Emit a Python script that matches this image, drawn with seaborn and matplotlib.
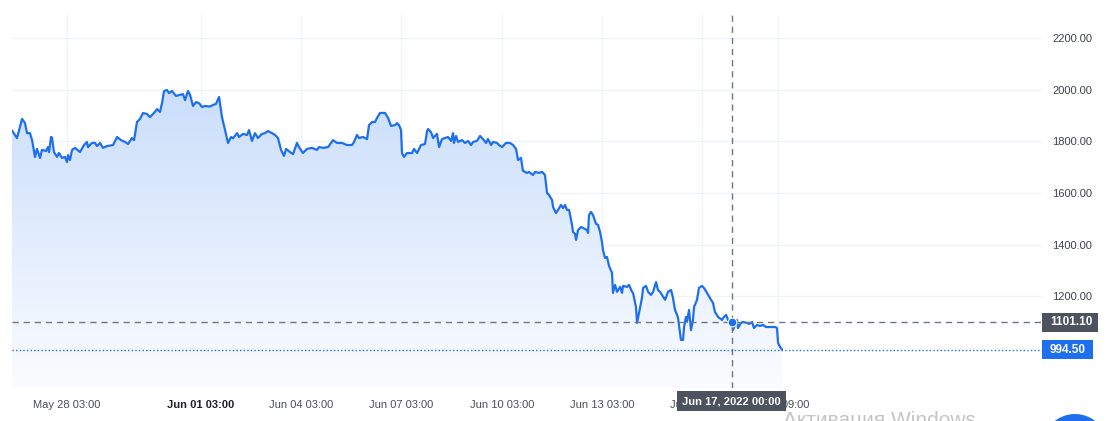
import matplotlib.pyplot as plt
import numpy as np
import pandas
import seaborn as sns
from matplotlib.colors import LinearSegmentedColormap
from matplotlib.patches import Circle, Rectangle
from matplotlib.transforms import blended_transform_factory

# Series start; all sample times are hours after this moment
START: pandas.Timestamp = pandas.Timestamp("2022-05-26 11:30")

hours: list[float] = [
    0.0, 3.6, 5.7, 7.2, 9.3, 10.8, 12.9, 14.4, 16.5, 17.9, 20.1, 21.5, 24.4,
    25.8, 26.6, 28.0, 28.7, 30.1, 32.3, 33.7, 35.9, 38.0, 39.5, 40.2, 41.6,
    43.1, 45.2, 48.8, 51.7, 53.8, 54.5, 57.4, 59.6, 61.0, 63.2, 65.3, 68.2,
    72.5, 75.4, 78.2, 81.1, 83.3, 86.1, 87.6, 89.7, 91.9, 94.0, 96.9, 99.0,
    101.9, 104.1, 106.2, 107.7, 109.1, 111.2, 112.7, 114.8, 117.7, 120.6,
    122.7, 124.2, 126.3, 127.8, 129.9, 132.1, 134.2, 136.4, 138.5, 142.1,
    144.3, 146.4, 148.6, 150.7, 152.9, 155.0, 157.2, 158.6, 161.5, 162.9,
    165.8, 168.7, 170.1, 172.2, 174.4, 176.5, 179.4, 181.6, 183.7, 186.6,
    188.8, 190.9, 193.1, 195.2, 196.7, 199.5, 201.7, 204.5, 206.0, 208.8,
    211.7, 215.3, 218.9, 220.3, 223.2, 226.8, 230.4, 233.3, 236.8, 240.4,
    244.0, 245.5, 247.6, 249.0, 251.9, 254.8, 256.2, 258.4, 260.5, 262.0,
    264.1, 267.7, 269.9, 272.0, 274.9, 276.3, 277.7, 279.2, 279.9, 281.3,
    283.5, 287.1, 288.5, 290.7, 293.5, 296.4, 297.9, 298.6, 300.7, 302.2,
    303.6, 305.0, 306.5, 308.6, 310.8, 312.9, 315.1, 316.5, 317.2, 318.7,
    320.1, 323.0, 325.1, 327.3, 329.4, 330.9, 333.7, 335.9, 338.0, 340.2,
    341.6, 343.8, 345.2, 348.1, 349.5, 351.7, 354.5, 357.4, 359.6, 361.7,
    363.2, 365.3, 366.7, 369.6, 371.0, 373.9, 375.4, 378.2, 380.4, 382.5,
    384.0, 385.4, 387.6, 388.3, 390.4, 391.9, 394.0, 395.5, 396.9, 398.3,
    399.8, 401.9, 402.6, 404.1, 404.8, 406.2, 408.4, 409.8, 412.7, 413.4,
    414.1, 415.5, 417.0, 419.1, 420.6, 422.0, 423.4, 424.1, 425.6, 427.0,
    428.5, 430.6, 431.3, 432.8, 434.2, 436.4, 437.8, 438.5, 441.4, 442.8,
    445.0, 445.7, 447.8, 448.6, 450.0, 452.2, 452.9, 455.0, 456.5, 458.6,
    460.1, 462.2, 463.6, 465.1, 468.7, 470.8, 473.0, 474.4, 475.8, 477.3,
    478.0, 480.1, 481.6, 482.3, 483.7, 484.4, 485.9, 487.3, 488.7, 489.5,
    491.6, 493.0, 495.2, 496.6, 498.8, 500.9, 503.1, 504.5, 506.7, 509.6,
    510.3, 512.5, 513.9, 516.5, 517.4, 520.3, 521.0, 523.2, 524.6, 527.5,
    529.0, 531.1, 532.5, 534.7, 536.8, 539.0, 541.1, 544.0, 547.6, 549.0,
    549.8, 551.2, 552.6,
]

prices: list[float] = [
    1842, 1813, 1857, 1887, 1871, 1832, 1832, 1805, 1740, 1771, 1736, 1767, 1763,
    1778, 1759, 1817, 1815, 1759, 1740, 1755, 1736, 1740, 1720, 1747, 1728,
    1767, 1775, 1759, 1786, 1798, 1778, 1794, 1794, 1782, 1794, 1775, 1782,
    1786, 1817, 1805, 1798, 1790, 1813, 1805, 1875, 1887, 1910, 1906, 1894,
    1910, 1925, 1914, 1949, 1995, 1999, 1987, 1995, 1976, 1980,
    1983, 1960, 1995, 1980, 1937, 1952, 1948, 1933, 1937, 1935,
    1941, 1945, 1972, 1894, 1844, 1794, 1817, 1812, 1832, 1817,
    1829, 1825, 1844, 1802, 1832, 1813, 1829, 1832, 1840, 1832,
    1825, 1813, 1767, 1744, 1771, 1759, 1751, 1794, 1778, 1755,
    1771, 1775, 1767, 1778, 1775, 1778, 1805, 1794, 1794, 1786,
    1786, 1798, 1825, 1813, 1817, 1809, 1863, 1875, 1875, 1891,
    1910, 1910, 1891, 1860, 1863, 1871, 1863, 1844, 1755, 1740,
    1755, 1755, 1771, 1755, 1786, 1790, 1840, 1848, 1836, 1813,
    1821, 1829, 1778, 1809, 1813, 1817, 1802, 1832, 1794, 1821,
    1798, 1805, 1794, 1802, 1786, 1798, 1802, 1821, 1809, 1794,
    1809, 1786, 1798, 1794, 1786, 1778, 1794, 1794, 1786, 1771,
    1728, 1736, 1686, 1678, 1682, 1670, 1682, 1678, 1682, 1670,
    1600, 1593, 1573, 1546, 1523, 1535, 1554, 1542, 1554, 1535,
    1535, 1477, 1450, 1442, 1419, 1457, 1469, 1465, 1457, 1446,
    1515, 1527, 1515, 1481, 1477, 1450, 1411, 1380, 1349, 1353,
    1318, 1291, 1214, 1245, 1218, 1237, 1214, 1241, 1237, 1245,
    1218, 1214, 1160, 1098, 1136, 1198, 1233, 1241, 1218, 1206,
    1218, 1256, 1225, 1218, 1187, 1218, 1225, 1194, 1148, 1129,
    1117, 1032, 1032, 1082, 1121, 1102, 1148, 1070, 1109, 1160,
    1187, 1233, 1241, 1233, 1214, 1194, 1175, 1140, 1121, 1109,
    1117, 1129, 1109, 1101.1, 1070, 1109, 1078, 1098, 1101, 1098,
    1094, 1101, 1078, 1090, 1086, 1090, 1082, 1082, 1082, 1078,
    1020, 1005, 994.5,
]

tick_times: list[str] = [
    "2022-05-28 03:00", "2022-06-01 03:00", "2022-06-04 03:00",
    "2022-06-07 03:00", "2022-06-10 03:00", "2022-06-13 03:00",
    "2022-06-16 03:00", "2022-06-18 09:00",
]
tick_labels: list[str] = [
    "May 28 03:00", "Jun 01 03:00", "Jun 04 03:00", "Jun 07 03:00",
    "Jun 10 03:00", "Jun 13 03:00", "Jun 16 03:00", "Jun 18 09:00",
]
price_ticks: list[int] = [1200, 1400, 1600, 1800, 2000, 2200]

cursor_time: str = "2022-06-17 00:00"
cursor_label: str = "Jun 17, 2022 00:00"
cursor_price: float = 1101.10
last_price: float = 994.50

BLUE = "#1e6ff0"
SLATE = "#4c525e"
GRID = "#eff2f8"

sns.set_style("white")
plt.rcParams["font.family"] = ["Liberation Sans", "DejaVu Sans"]
plt.rcParams["font.size"] = 8

df = pandas.DataFrame(
    {"time": START + pandas.to_timedelta(hours, unit="h"), "price": prices}
)

W, H = 1107, 421
fig, ax = plt.subplots(figsize=(W / 100, H / 100), dpi=100)
fig.subplots_adjust(left=12 / W, right=1042 / W, bottom=1 - 388 / H, top=1 - 15 / H)

y_min, y_max = 846.0, 2289.0
x_min = START
x_max = START + pandas.Timedelta(hours=739.2)

# Gradient fill under the curve
fill = ax.fill_between(df["time"], df["price"], y_min, facecolor="none", edgecolor="none")
cmap = LinearSegmentedColormap.from_list("tv", ["#fbfcff", "#cadefb"])
gradient = np.linspace(0, 1, 256).reshape(-1, 1)
x0 = plt.matplotlib.dates.date2num(x_min)
x1 = plt.matplotlib.dates.date2num(x_max)
img = ax.imshow(
    gradient, extent=[x0, x1, y_min, 2000], origin="lower", aspect="auto",
    cmap=cmap, zorder=1,
)
img.set_clip_path(fill.get_paths()[0], transform=ax.transData)

sns.lineplot(data=df, x="time", y="price", ax=ax, color=BLUE, linewidth=1.6, zorder=4)

# Grid
for t in pandas.to_datetime(tick_times):
    ax.axvline(t, color=GRID, linewidth=0.9, zorder=0)
for p in price_ticks:
    ax.axhline(p, color=GRID, linewidth=0.9, zorder=0)

# Crosshair and price lines
cursor_ts = pandas.Timestamp(cursor_time)
ax.axvline(cursor_ts, color="#6b7687", linewidth=1, linestyle=(0, (4.5, 3.5)), zorder=5)
ax.axhline(cursor_price, color="#6b7687", linewidth=1, linestyle=(0, (4.5, 3.5)), zorder=5)
ax.axhline(last_price, color=BLUE, linewidth=1, linestyle=(0, (1, 1.6)), zorder=5)
ax.scatter([cursor_ts], [cursor_price], s=40, color=BLUE, edgecolor="white",
           linewidth=0.8, zorder=6)

ax.set_xlim(x_min, x_max)
ax.set_ylim(y_min, y_max)
ax.set_xlabel("")
ax.set_ylabel("")
for s in ax.spines.values():
    s.set_visible(False)

ax.set_xticks(pandas.to_datetime(tick_times))
ax.set_xticklabels(tick_labels)
for lbl in ax.get_xticklabels():
    lbl.set_color("#4a4e57")
    if lbl.get_text().startswith("Jun 01"):
        lbl.set_color("#1f2229")
        lbl.set_fontweight("bold")
ax.tick_params(axis="x", length=0, pad=9)

ax.yaxis.tick_right()
ax.set_yticks(price_ticks)
ax.set_yticklabels([f"{p:.2f}" for p in price_ticks])
ax.tick_params(axis="y", length=0, pad=7.5, labelcolor="#3e424b")
ax.grid(False)

# Price badges on the right scale
px = (y_max - y_min) / (388 - 15)
axw = 1042 - 12
trans = blended_transform_factory(ax.transAxes, ax.transData)
for price, width, color in [(cursor_price, 56, SLATE), (last_price, 51, BLUE)]:
    ax.add_patch(Rectangle((1.0, price - 9.5 * px), width / axw, 19 * px,
                           transform=trans, facecolor=color, edgecolor="none",
                           clip_on=False, zorder=7))
    ax.text(1.0 + 8 / axw, price, f"{price:.2f}", transform=trans, ha="left",
            va="center", color="white", fontweight="bold", fontsize=8.5,
            clip_on=False, zorder=8)

# Crosshair time label
ax.text(cursor_ts, -0.035, cursor_label, transform=blended_transform_factory(ax.transData, ax.transAxes),
        ha="center", va="center", color="white", fontweight="bold", fontsize=8,
        bbox=dict(boxstyle="square,pad=0.45", facecolor=SLATE, edgecolor="none"),
        clip_on=False, zorder=8)

# Screenshot leftovers
fig.text(783 / W, 1 - 426 / H, "Активация Windows", fontsize=15, color="#c4c4c4",
         ha="left", va="baseline")
fig.patches.append(Circle((10.75, -0.26), 0.33, transform=fig.dpi_scale_trans,
                          facecolor=BLUE, edgecolor="none"))

plt.savefig("out.png", dpi=100)
plt.close()
